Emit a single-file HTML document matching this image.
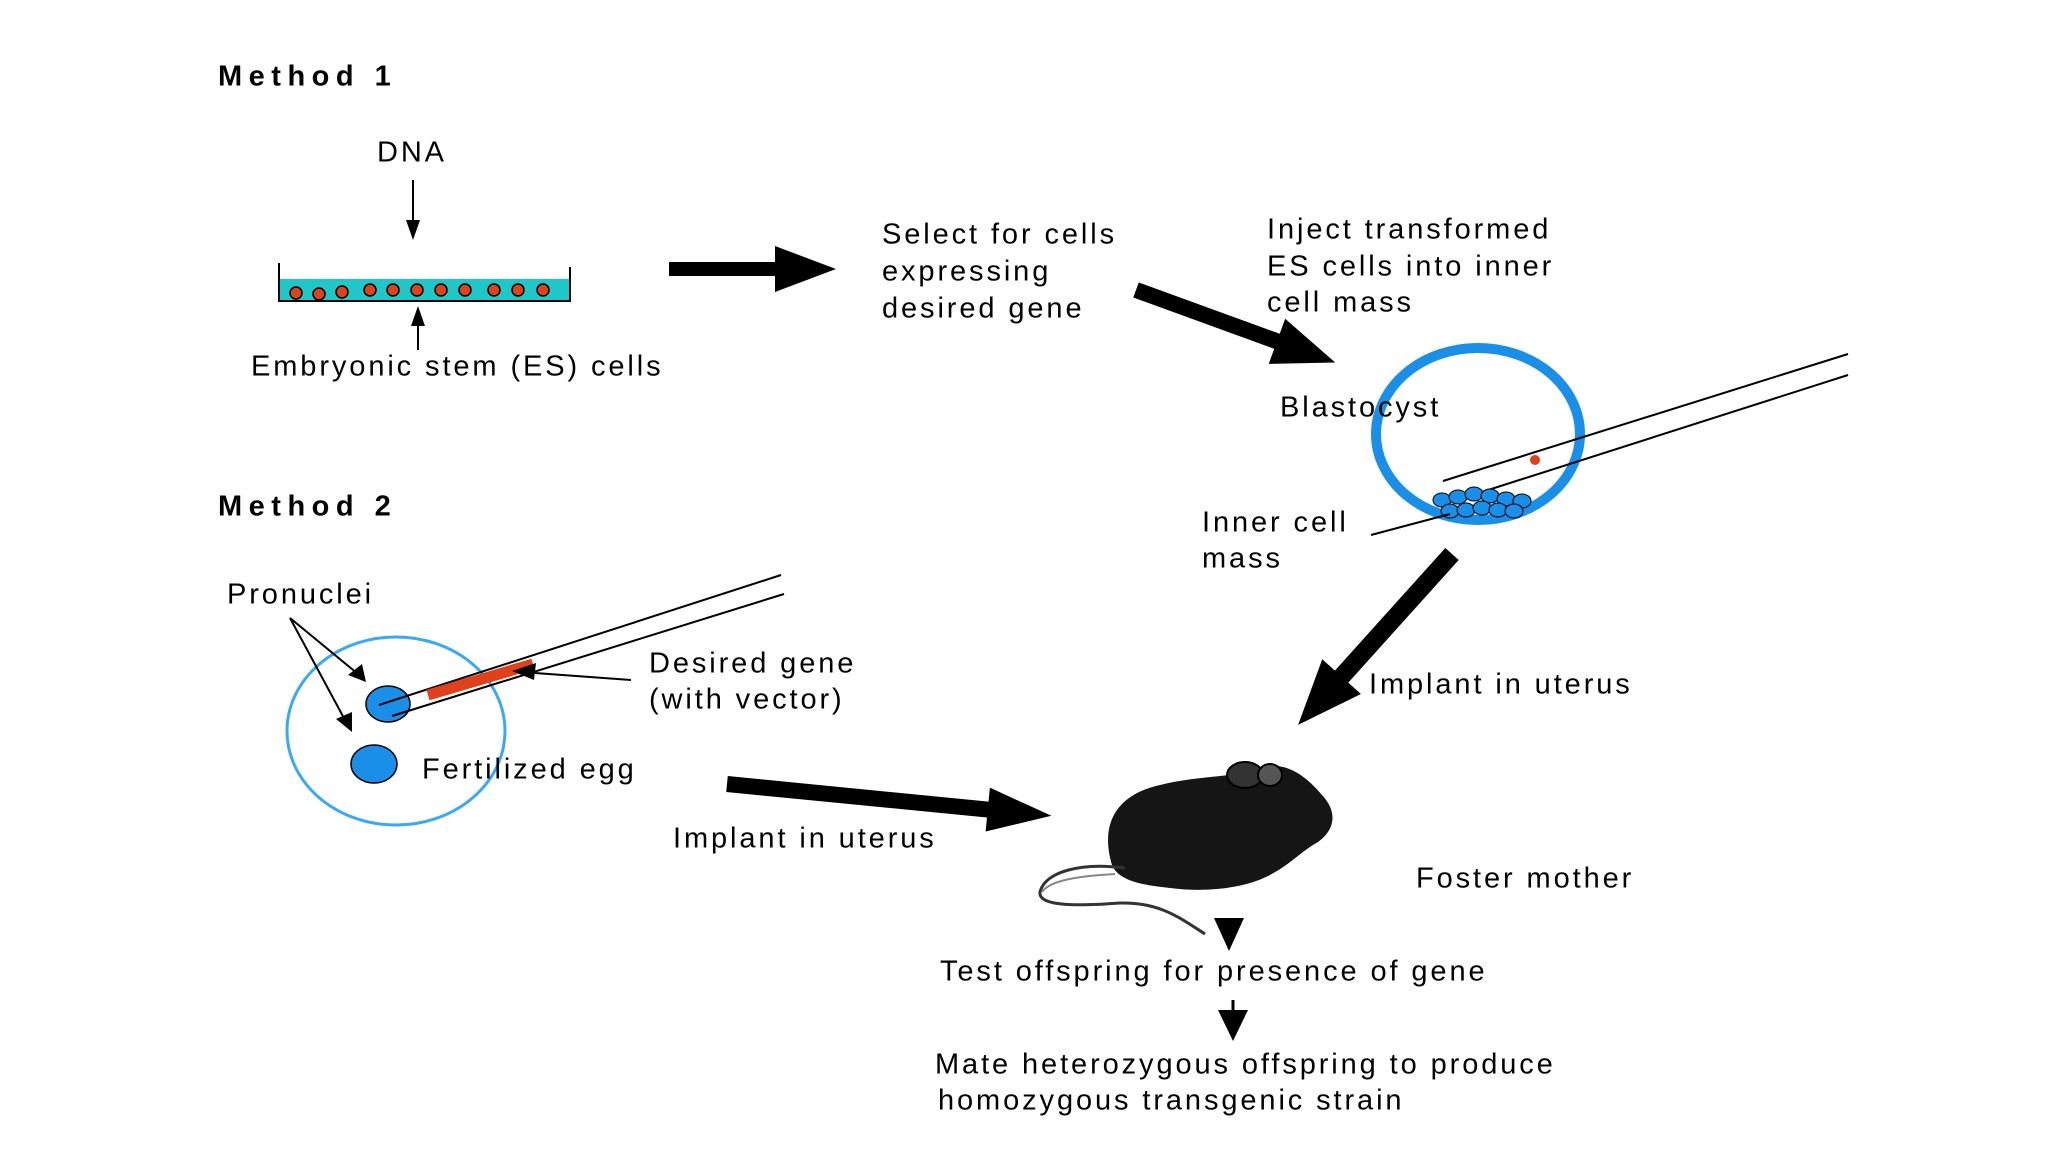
<!DOCTYPE html>
<html><head><meta charset="utf-8"><style>
html,body{margin:0;padding:0;background:#fff;}
svg{display:block}
text{font-family:"Liberation Sans",sans-serif;font-size:29px;fill:#000;dominant-baseline:middle;letter-spacing:2.9px}
.b{font-weight:bold;font-size:29px;letter-spacing:6.5px}
</style></head><body>
<svg width="2048" height="1152" viewBox="0 0 2048 1152" xmlns="http://www.w3.org/2000/svg">
<rect width="2048" height="1152" fill="#fff"/>
<text class="b" x="218" y="78">Method 1</text>
<text class="b" x="218" y="508">Method 2</text>

<!-- dish -->
<text x="377" y="154">DNA</text>
<line x1="413" y1="180" x2="413" y2="225" stroke="#000" stroke-width="2"/>
<polygon points="406,220 420,220 413,240" fill="#000"/>
<rect x="280" y="279" width="290" height="21" fill="#1fc7c9"/>
<line x1="279" y1="263" x2="279" y2="302" stroke="#000" stroke-width="2"/>
<line x1="570" y1="267" x2="570" y2="302" stroke="#000" stroke-width="2"/>
<line x1="278" y1="301" x2="571" y2="301" stroke="#000" stroke-width="2"/>
<g fill="#e0401a" stroke="#000" stroke-width="1.5">
<circle cx="296" cy="293" r="6"/><circle cx="319" cy="294" r="6"/><circle cx="342" cy="292" r="6"/>
<circle cx="370" cy="290" r="6"/><circle cx="393" cy="290" r="6"/><circle cx="417" cy="290" r="6"/>
<circle cx="441" cy="290" r="6"/><circle cx="465" cy="290" r="6"/><circle cx="494" cy="290" r="6"/>
<circle cx="518" cy="290" r="6"/><circle cx="543" cy="290" r="6"/></g>
<line x1="418" y1="350" x2="418" y2="320" stroke="#000" stroke-width="2"/>
<polygon points="411,326 425,326 418,306" fill="#000"/>
<text x="251" y="368">Embryonic stem (ES) cells</text>

<!-- arrow 1 -->
<polygon points="669,262 775,262 775,246 836,269 775,292 775,276 669,276" fill="#000"/>
<text x="882" y="236">Select for cells</text>
<text x="882" y="273">expressing</text>
<text x="882" y="310">desired gene</text>

<!-- arrow 2 -->
<g transform="translate(1136,290) rotate(20)"><polygon points="0,-8 150,-8 150,-24 212,0 150,24 150,8 0,8" fill="#000"/></g>
<text x="1267" y="231">Inject transformed</text>
<text x="1267" y="268">ES cells into inner</text>
<text x="1267" y="304">cell mass</text>

<!-- blastocyst -->
<ellipse cx="1478" cy="434" rx="102" ry="86" fill="none" stroke="#1a8fe8" stroke-width="10"/>
<text x="1280" y="409">Blastocyst</text>
<line x1="1443" y1="481" x2="1848" y2="354" stroke="#000" stroke-width="2"/>
<line x1="1460" y1="499" x2="1848" y2="375" stroke="#000" stroke-width="2"/>
<circle cx="1535" cy="460" r="5" fill="#e0401a"/>
<g fill="#1a8fe8" stroke="#000" stroke-width="1">
<ellipse cx="1442" cy="500" rx="9" ry="7"/><ellipse cx="1458" cy="497" rx="9" ry="7"/><ellipse cx="1474" cy="494" rx="9" ry="7"/>
<ellipse cx="1490" cy="496" rx="9" ry="7"/><ellipse cx="1506" cy="499" rx="9" ry="7"/><ellipse cx="1522" cy="501" rx="9" ry="7"/>
<ellipse cx="1450" cy="511" rx="9" ry="7"/><ellipse cx="1466" cy="510" rx="9" ry="7"/><ellipse cx="1482" cy="508" rx="9" ry="7"/>
<ellipse cx="1498" cy="510" rx="9" ry="7"/><ellipse cx="1514" cy="511" rx="9" ry="7"/></g>
<line x1="1371" y1="535" x2="1450" y2="514" stroke="#000" stroke-width="2"/>
<text x="1202" y="524">Inner cell</text>
<text x="1202" y="560">mass</text>

<!-- arrow 3 -->
<g transform="translate(1452,554) rotate(132)"><polygon points="0,-9 165,-9 165,-26 230,0 165,26 165,9 0,9" fill="#000"/></g>
<text x="1369" y="686">Implant in uterus</text>

<!-- Method 2 egg -->
<text x="227" y="596">Pronuclei</text>
<ellipse cx="396" cy="731" rx="109" ry="94" fill="none" stroke="#3aa9f5" stroke-width="3"/>
<ellipse cx="388" cy="704" rx="22" ry="18" fill="#1a8fe8" stroke="#000" stroke-width="1.5"/>
<ellipse cx="374" cy="764" rx="23" ry="19" fill="#1a8fe8" stroke="#000" stroke-width="1.5"/>
<line x1="290" y1="618" x2="358" y2="674" stroke="#000" stroke-width="2"/>
<polygon points="348,675 362,664 366,682" fill="#000"/>
<line x1="290" y1="618" x2="345" y2="720" stroke="#000" stroke-width="2"/>
<polygon points="336,719 352,712 352,732" fill="#000"/>
<line x1="379" y1="705" x2="781" y2="575" stroke="#000" stroke-width="2"/>
<line x1="392" y1="716" x2="784" y2="594" stroke="#000" stroke-width="2"/>
<line x1="428" y1="695" x2="533" y2="664" stroke="#e0401a" stroke-width="11"/>
<line x1="535" y1="673" x2="631" y2="680" stroke="#000" stroke-width="2"/>
<polygon points="512,671 536,663 534,680" fill="#000"/>
<text x="649" y="665">Desired gene</text>
<text x="649" y="701">(with vector)</text>
<text x="422" y="771">Fertilized egg</text>

<!-- arrow 4 -->
<g transform="translate(727,784) rotate(5.6)"><polygon points="0,-8 262,-8 262,-22 326,0 262,22 262,8 0,8" fill="#000"/></g>
<text x="673" y="840">Implant in uterus</text>

<!-- mouse -->
<g>
<path d="M1112,865 C1100,825 1115,795 1160,785 C1200,775 1235,778 1258,768 C1285,760 1305,775 1322,795 C1338,812 1335,830 1318,842 C1300,852 1290,865 1268,876 C1240,890 1200,892 1170,888 C1140,885 1118,880 1112,865 Z" fill="#151515"/>
<ellipse cx="1245" cy="775" rx="18" ry="13" fill="#333" stroke="#000" stroke-width="2"/>
<ellipse cx="1270" cy="775" rx="12" ry="11" fill="#555" stroke="#000" stroke-width="2"/>
<path d="M1125,868 C1080,862 1045,872 1040,892 C1038,907 1080,906 1120,903 C1160,902 1180,918 1205,934" fill="none" stroke="#333" stroke-width="3"/>
<path d="M1042,892 C1050,880 1080,876 1115,874" fill="none" stroke="#888" stroke-width="2"/>
</g>
<text x="1416" y="880">Foster mother</text>

<polygon points="1214,918 1244,918 1229,951" fill="#000"/>
<text x="940" y="973">Test offspring for presence of gene</text>
<line x1="1233" y1="1000" x2="1233" y2="1015" stroke="#000" stroke-width="3"/>
<polygon points="1218,1010 1248,1010 1233,1041" fill="#000"/>
<text x="935" y="1066">Mate heterozygous offspring to produce</text>
<text x="938" y="1102">homozygous transgenic strain</text>
</svg>
</body></html>
